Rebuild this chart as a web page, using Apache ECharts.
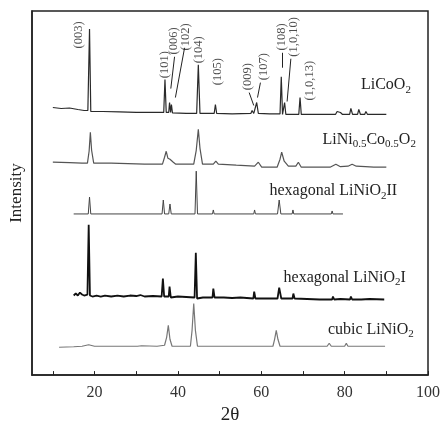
<!DOCTYPE html>
<html>
<head>
<meta charset="utf-8">
<script src="https://cdn.jsdelivr.net/npm/echarts@6/dist/echarts.min.js"></script>
<style>
html,body{margin:0;padding:0;background:#fff;}
#chart{width:443px;height:430px;}
</style>
</head>
<body>
<div id="chart"></div>
<script>
// XRD patterns, [2theta, intensity (a.u., traces offset)]
var licoo2 = [[10,269],[12,268],[14,268.5],[16,267],[17.5,266],[18.4,266],[18.8,348],[19.1,265],[22,265],[26,264.5],[30,264],[34,264],[36.6,264],[36.9,297],[37.2,264],[37.8,264],[38.0,274],[38.25,264],[38.45,272],[38.7,263.5],[42,263],[44.5,263],[44.9,312],[45.3,263],[48.7,263],[49.0,272],[49.3,263],[53,262.5],[57.5,263],[57.8,266],[58.2,263],[58.5,264],[58.9,274],[59.3,263],[62,262.5],[64.5,262.5],[64.8,300],[65.1,262],[65.35,262],[65.6,274],[65.9,262],[69.0,262],[69.3,279],[69.6,262],[75,262],[77.8,262],[78.2,265],[78.6,263],[79,264],[79.5,262],[81.2,262],[81.5,268],[81.9,262],[83.1,262],[83.4,267],[83.8,262],[84.8,262],[85.1,265],[85.5,262],[90,262]];
var lini05 = [[10,214],[14,213.5],[17,213],[18.3,213],[18.7,225],[19.0,244],[19.3,226],[19.8,213],[24,213],[28,212.5],[32,212],[36.3,212],[36.8,219],[37.2,225],[37.6,218],[38.1,217],[38.5,219],[38.9,214],[39.5,212],[43.8,212],[44.4,226],[44.9,247],[45.3,228],[45.9,212],[48.5,212],[49.1,215],[49.7,212],[54,211],[58.4,210],[59.3,214],[60.1,209],[63.8,209],[64.5,217],[64.9,224],[65.5,215],[66.5,210],[68.3,210],[68.9,214],[69.6,209],[73,209],[76.5,209],[77.9,212],[79,209.5],[80.8,210],[81.8,212],[82.8,210],[85,209.5],[87,209],[90,209]];
var hexII = [[15,162],[18.5,162],[18.8,179],[19.1,162],[36.2,162],[36.5,176],[36.8,162],[37.8,162],[38.1,172],[38.4,162],[44.1,162],[44.4,205],[44.7,162],[48.3,162],[48.5,166],[48.7,162],[58.2,162],[58.4,166],[58.6,162],[63.9,162],[64.3,176],[64.7,162],[67.4,162],[67.6,166],[67.8,162],[76.8,162],[77.0,165],[77.2,162],[79.6,162]];
var hexI = [[15,80],[15.5,82],[16,80],[16.5,83],[17,81],[17.5,80],[18.3,81],[18.6,151],[18.9,80],[19.5,79],[20.5,80],[21.5,79],[22.5,80],[24,79],[25.5,80],[27,79],[28.5,80],[30,79.5],[31,80.5],[32,79],[34,79.5],[36.1,79],[36.4,97],[36.7,79],[37.8,79],[38.0,89],[38.3,78],[40,79],[42,78.5],[44.0,78],[44.3,123],[44.6,77],[46,78],[48.3,78],[48.5,87],[48.8,78],[51,78],[53,77.5],[55,78],[58.1,77],[58.3,84],[58.6,77],[61,77],[63.9,77],[64.3,88],[64.8,77],[67.5,77],[67.7,82],[68,77],[71,76.5],[74,76],[77.0,76],[77.2,79],[77.5,76],[79,76.5],[81.3,76],[81.5,79],[81.8,76],[84,76],[86,76.5],[89.5,76]];
var cubic = [[11.5,28],[15,28.5],[17,29],[18.6,30.5],[20,29],[21.1,29],[21.3,31],[21.5,29],[28,29],[30.3,29],[30.5,30],[30.7,29],[31.3,29.5],[31.5,30.5],[31.7,29.5],[35,29],[36.8,30],[37.3,38],[37.7,50],[38.1,36],[38.6,29],[43.0,29],[43.4,45],[43.8,72],[44.2,45],[44.7,29],[53,29],[62.8,29],[63.2,36],[63.6,45],[64.0,36],[64.5,29],[75.8,29],[76.3,32],[76.8,29],[80,29],[80.4,32],[80.8,29],[89.7,29]];

// peak indices of LiCoO2
var hklNames = ['(003)','(101)','(006)','(102)','(104)','(105)','(009)','(107)','(108)','(1,0,10)','(1,0,13)'];
var hklX = [16.2, 36.8, 38.9, 41.8, 45.0, 49.5, 56.7, 60.5, 65.0, 67.9, 71.7];
var hklY = [342, 312, 336, 340, 327, 305, 300, 310, 340, 340, 296];
// arrows from label to peak: [x1, y1, x2, y2]
var hklArrows = [[39.2,320,38.3,288],[41.6,329,39.4,279],[57.1,284,58.2,271],[59.8,294,59.1,279],[65.0,324,65.0,309],[67.1,318,66.2,275]];

var traceNames = ['LiCoO{s|2}', 'LiNi{s|0.5}Co{s|0.5}O{s|2}', 'hexagonal LiNiO{s|2}II', 'hexagonal LiNiO{s|2}I', 'cubic LiNiO{s|2}'];
var traceLabelAt = [[95.9,292],[97.1,237],[92.6,185],[94.7,98],[96.6,46]];

var xTicks = [10,20,30,40,50,60,70,80,90,100];
var xLabels = [20,40,60,80,100];

var FONT = "'Liberation Serif','DejaVu Serif',serif";

function nameMark(i){
	return {
		symbol: 'circle',
		symbolSize: 0,
		silent: true,
		label: {
			show: true,
			position: 'left',
			distance: 0,
			formatter: traceNames[i],
			color: '#222',
			fontFamily: FONT,
			fontSize: 16,
			lineHeight: 21,
			rich: {
				s: {fontSize: 11, lineHeight: 12, verticalAlign: 'bottom', fontFamily: FONT, color: '#222'}
			}
		},
		data: [{coord: traceLabelAt[i]}]
	};
}

function trace(i, data, color, width){
	return {
		type: 'line',
		data: data,
		showSymbol: false,
		symbol: 'none',
		silent: true,
		lineStyle: {color: color, width: width},
		markPoint: nameMark(i)
	};
}

var lineSeries = [
	trace(0, licoo2, '#2a2a2a', 1.2),
	trace(1, lini05, '#555', 1.2),
	trace(2, hexII, '#444', 1),
	trace(3, hexI, '#111', 1.8),
	trace(4, cubic, '#777', 1.2)
];

lineSeries[0].markLine = {
	silent: true,
	symbol: ['none', 'arrow'],
	symbolSize: [0, 6],
	label: {show: false},
	lineStyle: {color: '#222', width: 1, type: 'solid'},
	data: hklArrows.map(function(a){
		return [{coord: [a[0], a[1]]}, {coord: [a[2], a[3]]}];
	})
};

var hklData = hklNames.map(function(n, i){
	return {value: [hklX[i], hklY[i]], name: n};
});

var option = {
	animation: false,
	backgroundColor: '#fff',
	grid: {
		left: 32, right: 15, top: 11, bottom: 53,
		show: true,
		borderColor: '#222',
		borderWidth: 1.5
	},
	xAxis: {
		type: 'value',
		min: 5,
		max: 100,
		name: '2\u03b8',
		nameLocation: 'middle',
		nameGap: 26,
		nameTextStyle: {fontFamily: FONT, fontSize: 19, color: '#222'},
		axisLine: {show: true, lineStyle: {color: '#222', width: 1.5}},
		axisTick: {show: true, inside: true, length: 4, customValues: xTicks, lineStyle: {color: '#222'}},
		axisLabel: {customValues: xLabels, fontFamily: FONT, fontSize: 16, color: '#333', margin: 10},
		splitLine: {show: false}
	},
	yAxis: {
		type: 'value',
		min: 0,
		max: 366,
		name: 'Intensity',
		nameLocation: 'middle',
		nameGap: 7,
		nameTextStyle: {fontFamily: FONT, fontSize: 17, color: '#222'},
		axisLine: {show: true, lineStyle: {color: '#222', width: 1.5}},
		axisTick: {show: false},
		axisLabel: {show: false},
		splitLine: {show: false}
	},
	series: lineSeries.concat([{
		type: 'scatter',
		data: hklData,
		symbolSize: 0,
		silent: true,
		label: {
			show: true,
			position: 'inside',
			rotate: 90,
			formatter: '{b}',
			fontFamily: FONT,
			fontSize: 12.5,
			color: '#222'
		}
	}])
};

var chart = echarts.init(document.getElementById('chart'));
chart.setOption(option);
window.onresize = chart.resize;
</script>
</body>
</html>
